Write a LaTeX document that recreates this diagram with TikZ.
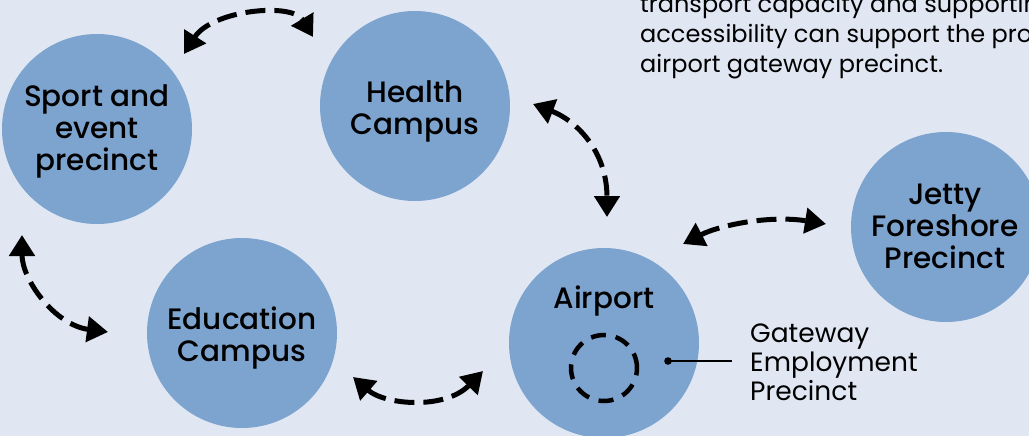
\documentclass[tikz,border=0pt]{standalone}
\usepackage{fontspec}
\setmainfont{Poppins}[BoldFont={Poppins Medium}]
\usetikzlibrary{arrows.meta}
\definecolor{bgc}{RGB}{224,231,243}
\definecolor{circc}{RGB}{125,163,207}
\tikzset{
  hub/.style={circle, fill=circc, minimum size=190pt, inner sep=0pt, align=center,
    font=\bfseries\fontsize{29.5}{32}\selectfont},
  hubtext/.style={align=center, inner sep=0pt, text depth=0pt,
    font=\bfseries\fontsize{29.5}{32}\selectfont},
  dbl/.style={line width=5pt, dash pattern=on 20pt off 9pt,
    {Triangle[length=21pt,width=25pt]}-{Triangle[length=21pt,width=25pt]}},
  plain/.style={align=left, inner sep=0pt}
}
\begin{document}
\begin{tikzpicture}[x=1pt,y=-1pt]
\useasboundingbox (0,0) rectangle (1029,436);
\fill[bgc] (0,0) rectangle (1029,436);
\node[hub] (sport) at (97,129) {};
\node[hub] (health) at (415,106) {};
\node[hub] (edu) at (242,333) {};
\node[hub] (airport) at (604,343) {};
\node[hub] (jetty) at (946,227) {};
\node[hubtext, anchor=base] (sportlbl) at (97,170) {Sport and\\event\\precinct};
\node[hubtext, anchor=base] (healthlbl) at (415,134) {Health\\Campus};
\node[hubtext, anchor=base] (edulbl) at (242,361) {Education\\Campus};
\node[hubtext, anchor=base] (jettylbl) at (945,268) {Jetty\\Foreshore\\Precinct};
\node[hubtext, anchor=base] (airlbl) at (604,308) {Airport};
\node[draw, circle, line width=4.5pt, dash pattern=on 15pt off 10pt, minimum size=66pt, inner sep=0pt] (gep) at (604,368) {};
\node[plain, font=\fontsize{26.5}{29}\selectfont, anchor=base west] (geptxt) at (750,400) {Gateway\\Employment\\Precinct};
\fill (668,361) circle (3.8pt) coordinate (dot);
\coordinate (lineend) at (732,361);
\draw[line width=2.5pt] (dot) -- (lineend);
\node[plain, font=\fontsize{24}{30}\selectfont, anchor=base west] (top) at (640,73) {transport capacity and supportin\\accessibility can support the pro\\airport gateway precinct.};
% arrows
\coordinate (a1s) at (184,54); \coordinate (a1e) at (313,37);
\draw[dbl] (a1s) .. controls (212,10) and (292,2) .. (a1e);
\coordinate (a2s) at (533,104); \coordinate (a2e) at (607,217);
\draw[dbl] (a2s) .. controls (575,120) and (607,150) .. (a2e);
\coordinate (a3s) at (683,244); \coordinate (a3e) at (826,224);
\draw[dbl] (a3s) .. controls (720,225) and (770,215) .. (a3e);
\coordinate (a4s) at (22,235); \coordinate (a4e) at (108,332);
\draw[dbl] (a4s) .. controls (22,280) and (55,325) .. (a4e);
\coordinate (a5s) at (353,377); \coordinate (a5e) at (483,371);
\draw[dbl] (a5s) .. controls (385,405) and (445,410) .. (a5e);
\end{tikzpicture}
\end{document}
